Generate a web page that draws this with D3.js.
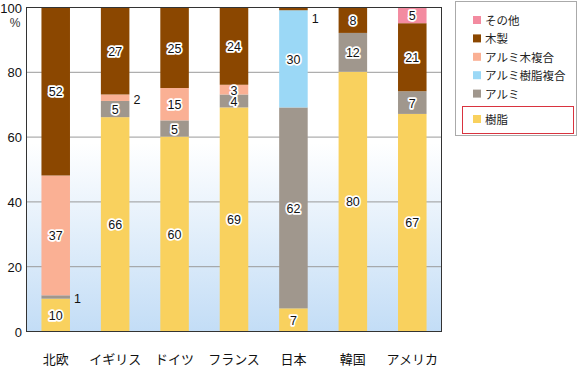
<!DOCTYPE html>
<html><head><meta charset="utf-8">
<script src="https://cdn.jsdelivr.net/npm/d3@7/dist/d3.min.js"></script>
<style>
html,body{margin:0;padding:0;background:#fff;}
svg{display:block;}
text{font-family:"Liberation Sans",Arial,"Noto Sans CJK JP",sans-serif;}
.jp{font-family:"Noto Sans CJK JP","Liberation Sans",sans-serif;}
.halo{paint-order:stroke fill;stroke:#fff;stroke-width:3.5px;stroke-linejoin:round;}
</style></head>
<body><svg id="chart" width="580" height="366"></svg>
<script>
const categories = ["北欧","イギリス","ドイツ","フランス","日本","韓国","アメリカ"];
const resin      = [10, 66, 60, 69,  7, 80, 67]; // 樹脂
const aluminium  = [ 1,  5,  5,  4, 62, 12,  7]; // アルミ
const alumResin  = [ 0,  0,  0,  0, 30,  0,  0]; // アルミ樹脂複合
const alumWood   = [37,  2, 15,  3,  0,  0,  0]; // アルミ木複合
const wood       = [52, 27, 25, 24,  1,  8, 21]; // 木製
const other      = [ 0,  0,  0,  0,  0,  0,  5]; // その他
const yTicks = [0, 20, 40, 60, 80, 100];

const seriesNames  = ["樹脂","アルミ","アルミ樹脂複合","アルミ木複合","木製","その他"];
const seriesValues = [resin, aluminium, alumResin, alumWood, wood, other];
const seriesColors = ["#F9D15E","#A0978D","#9BD8F6","#FAB094","#8B4700","#F38BA0"];
const legendOrder = ["その他","木製","アルミ木複合","アルミ樹脂複合","アルミ","樹脂"];

const svg = d3.select("#chart");
const L = 26, R = 442, T = 7, B = 331;

const x = d3.scaleBand().domain(categories).range([L, R]).paddingInner(0.52).paddingOuter(0.26);
const y = d3.scaleLinear().domain([0, 100]).range([B, T]);

// background gradient
const defs = svg.append("defs");
const g = defs.append("linearGradient").attr("id","bg").attr("x1",0).attr("y1",0).attr("x2",0).attr("y2",1);
g.append("stop").attr("offset","0%").attr("stop-color","#ffffff");
g.append("stop").attr("offset","42%").attr("stop-color","#ffffff");
g.append("stop").attr("offset","100%").attr("stop-color","#c3ddf6");
svg.append("rect").attr("x",L).attr("y",T).attr("width",R-L).attr("height",B-T).attr("fill","url(#bg)");

// gridlines
svg.append("g").selectAll("line").data(yTicks.filter(d => d > 0 && d < 100)).join("line")
  .attr("x1",L).attr("x2",R).attr("y1",d=>y(d)+0.5).attr("y2",d=>y(d)+0.5)
  .attr("stroke","#9a9a9a").attr("stroke-width",1);

// segments: bottom stack (樹脂, アルミ, アルミ樹脂複合, アルミ木複合), top stack from 100 (その他, 木製)
const segs = [];
categories.forEach((c, i) => {
  let acc = 0;
  const bottom = {};
  [0,1,2,3].forEach(s => { const v = seriesValues[s][i]; bottom[s] = [acc, acc + v]; acc += v; });
  let top = 100;
  const topSeg = {};
  [5,4].forEach(s => { const v = seriesValues[s][i]; topSeg[s] = [top - v, top]; top -= v; });
  bottom[3] = [bottom[3][0], Math.min(bottom[3][1], top)];
  const all = Object.assign({}, bottom, topSeg);
  for (let s = 0; s < 6; s++) {
    const v = seriesValues[s][i];
    if (v > 0) segs.push({cat:c, s, v, y0: all[s][0], y1: all[s][1]});
  }
});

svg.append("g").selectAll("rect").data(segs).join("rect")
  .attr("x", d => x(d.cat)).attr("width", x.bandwidth())
  .attr("y", d => y(d.y1)).attr("height", d => y(d.y0) - y(d.y1))
  .attr("fill", d => seriesColors[d.s]);

// frame
svg.append("rect").attr("x",L+0.5).attr("y",T+0.5).attr("width",R-L-1).attr("height",B-T)
  .attr("fill","none").attr("stroke","#333").attr("stroke-width",1);

// value labels
const inside = segs.filter(d => d.v >= 3);
const outside = segs.filter(d => d.v < 3);
const lab = svg.append("g").style("font-size","12.5px");
lab.selectAll("text.v").data(inside).join("text").attr("class","halo")
  .attr("x", d => x(d.cat) + x.bandwidth()/2).attr("y", d => y((d.y0+d.y1)/2) + 1)
  .attr("text-anchor","middle").attr("dominant-baseline","central").attr("fill","#111")
  .text(d => d.v);
lab.selectAll("text.o").data(outside).join("text")
  .attr("x", d => x(d.cat) + x.bandwidth() + 4)
  .attr("y", d => Math.max(y((d.y0+d.y1)/2) + 2, 19))
  .attr("dominant-baseline","central").attr("fill","#111")
  .text(d => d.v);

// y axis labels
svg.append("g").selectAll("text").data(yTicks).join("text")
  .attr("x", 22).attr("y", d => y(d) + 1).attr("text-anchor","end").attr("dominant-baseline","central")
  .style("font-size","13px").attr("fill","#111").text(d => d);
svg.append("text").attr("x",15).attr("y",23).attr("text-anchor","middle").attr("dominant-baseline","central")
  .style("font-size","12px").attr("fill","#333").text("%");

// x axis labels
svg.append("g").selectAll("text").data(categories).join("text").attr("class","jp")
  .attr("x", d => x(d) + x.bandwidth()/2).attr("y", 358).attr("text-anchor","middle").attr("dominant-baseline","central")
  .style("font-size","13px").attr("fill","#111").text(d => d);

// legend
svg.append("rect").attr("x",455.5).attr("y",1.5).attr("width",121).attr("height",134).attr("fill","#fff").attr("stroke","#aaa");
svg.append("rect").attr("x",462.5).attr("y",106.5).attr("width",111).attr("height",27).attr("fill","none").attr("stroke","#d9333f");
const ly = d => d === 5 ? 119 : 20 + d * 18.4;
const leg = svg.append("g").selectAll("g").data(legendOrder).join("g")
  .attr("transform", (d,i) => `translate(473,${ly(i)})`);
leg.append("rect").attr("x",0).attr("y",-4).attr("width",8).attr("height",8)
  .attr("fill", d => seriesColors[seriesNames.indexOf(d)]);
leg.append("text").attr("class","jp").attr("x",12).attr("y",0).attr("dominant-baseline","central")
  .style("font-size","11.5px").attr("fill","#222").text(d => d);
</script></body></html>
